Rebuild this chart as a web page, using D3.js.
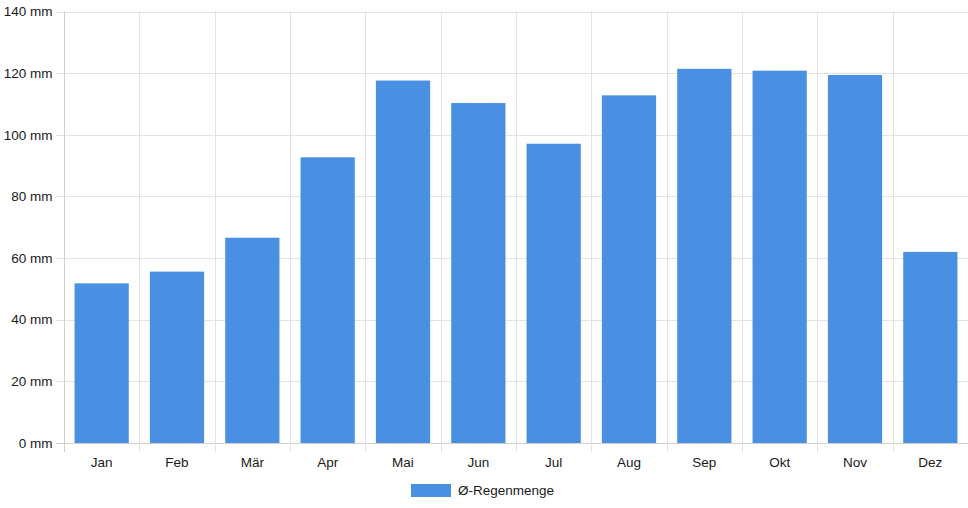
<!DOCTYPE html>
<html><head><meta charset="utf-8">
<script src="https://cdn.jsdelivr.net/npm/d3@7"></script>
<style>
html,body{margin:0;padding:0;background:#fff;}
text{font-family:"Liberation Sans",Arial,Helvetica,sans-serif;}
</style></head>
<body><svg id="c" width="968" height="508"></svg>
<script>
const months = ["Jan","Feb","Mär","Apr","Mai","Jun","Jul","Aug","Sep","Okt","Nov","Dez"];
const rain = [51.8,55.6,66.6,92.7,117.6,110.3,97.1,112.8,121.4,120.8,119.4,62.0];
const yTicks = [0,20,40,60,80,100,120,140];
const seriesName = "Ø-Regenmenge";

const svg = d3.select("#c");
const L = 64, R = 968, T = 11.5, B = 443;
const x = d3.scaleBand().domain(months).range([L, R]).paddingInner(0).paddingOuter(0);
const y = d3.scaleLinear().domain([0,140]).range([B, T]);
const grid = "#e3e3e3", txt = "#1a1a1a", barC = "#4a90e2";
const fs = 13.5;

// horizontal grid + ticks
svg.append("g").selectAll("line").data(yTicks).join("line")
  .attr("x1", L-8).attr("x2", R).attr("y1", d=>Math.round(y(d))+0.5).attr("y2", d=>Math.round(y(d))+0.5)
  .attr("stroke", d=> d===0 ? "#cfcfcf" : grid).attr("stroke-width",1);
svg.append("g").selectAll("text").data(yTicks).join("text")
  .attr("x", L-11.5).attr("y", d=>y(d)).attr("dy","0.35em").attr("text-anchor","end")
  .attr("font-size",fs).attr("fill",txt).text(d=>d+" mm");

// vertical grid lines
const vx = months.map(m=>x(m)).concat([R-0.5]);
svg.append("g").selectAll("line").data(vx).join("line")
  .attr("x1", d=>Math.round(d)+0.5).attr("x2", d=>Math.round(d)+0.5)
  .attr("y1", T).attr("y2", B+9)
  .attr("stroke", (d,i)=> i===0 ? "#cfcfcf" : grid).attr("stroke-width",1);

// bars
const bw = x.bandwidth()*0.72;
svg.append("g").selectAll("rect").data(rain).join("rect")
  .attr("x",(d,i)=>x(months[i]) + (x.bandwidth()-bw)/2)
  .attr("width", bw)
  .attr("y", d=>y(d)).attr("height", d=>B - y(d))
  .attr("fill", barC);

// x labels
svg.append("g").selectAll("text").data(months).join("text")
  .attr("x", d=>x(d)+x.bandwidth()/2).attr("y", 466.5).attr("text-anchor","middle")
  .attr("font-size",fs).attr("fill",txt).text(d=>d);

// legend
const lg = svg.append("g");
lg.append("rect").attr("x",411).attr("y",484).attr("width",40).attr("height",13).attr("fill",barC);
lg.append("text").attr("x",458).attr("y",494.5).attr("font-size",fs).attr("fill",txt).text(seriesName);
</script></body></html>
